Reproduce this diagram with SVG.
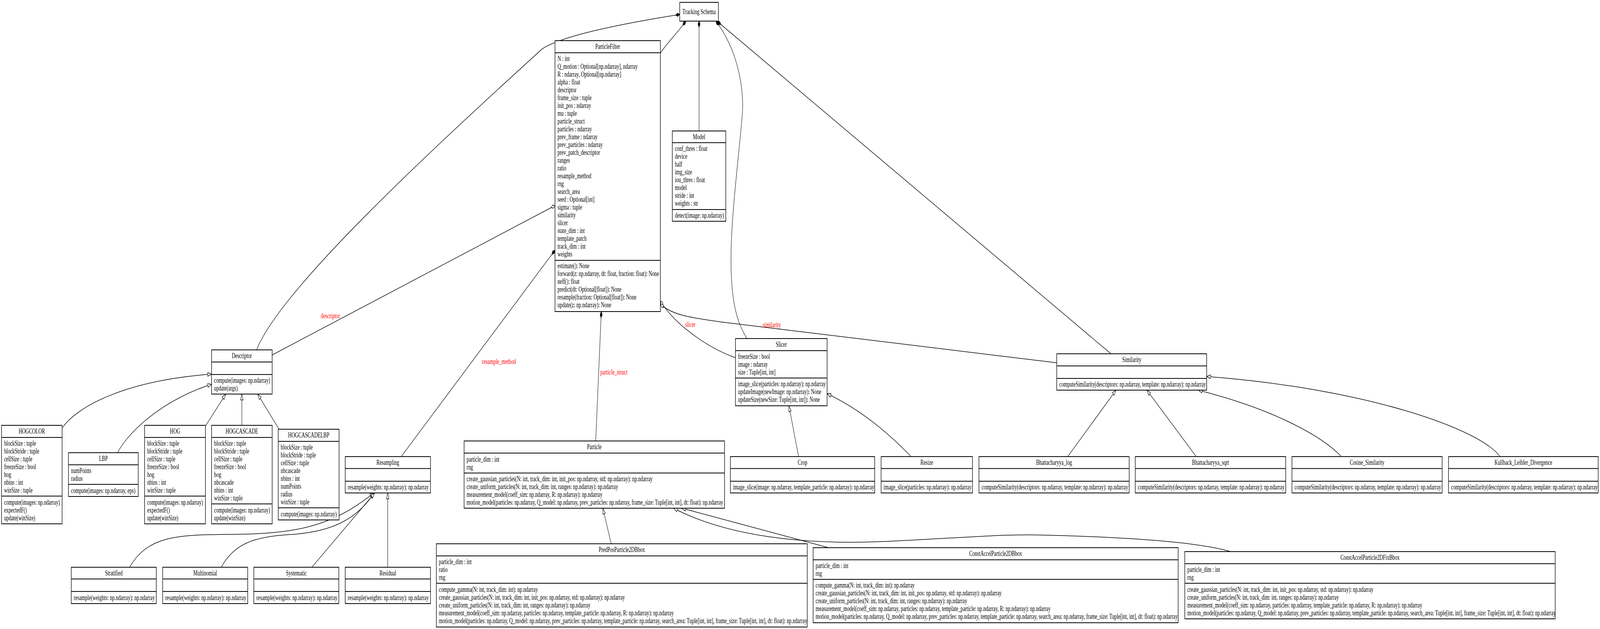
<svg xmlns="http://www.w3.org/2000/svg" width="6285" height="1609" viewBox="0 0 6285 1609" preserveAspectRatio="none">
<style>
svg{width:100vw;height:100vh;display:block}
.bg{fill:#fff}
.b{fill:#fff;stroke:#000;stroke-width:2}
.d{stroke:#000;stroke-width:2}
text{font-family:"Liberation Serif","Times New Roman",serif;font-size:18.67px;fill:#000}
.c{text-anchor:middle}
.lbl{fill:#f00}
.e{fill:none;stroke:#000;stroke-width:1.5}
.inh{marker-end:url(#tri)}
.comp{marker-start:url(#dia)}
.agg{marker-start:url(#odia)}
</style>
<defs>
<marker id="tri" viewBox="0 -6 17 12" refX="16" refY="0" markerWidth="17" markerHeight="12" markerUnits="userSpaceOnUse" orient="auto"><path d="M1,-4.8 L16,0 L1,4.8 Z" fill="#fff" stroke="#000" stroke-width="1.5"/></marker>
<marker id="dia" viewBox="0 -6 19 12" refX="1" refY="0" markerWidth="19" markerHeight="12" markerUnits="userSpaceOnUse" orient="auto"><path d="M1,0 L9,-4.2 L17,0 L9,4.2 Z" fill="#000" stroke="#000" stroke-width="1.5"/></marker>
<marker id="odia" viewBox="0 -6 19 12" refX="1" refY="0" markerWidth="19" markerHeight="12" markerUnits="userSpaceOnUse" orient="auto"><path d="M1,0 L9,-4.2 L17,0 L9,4.2 Z" fill="#fff" stroke="#000" stroke-width="1.5"/></marker>
</defs>
<rect class="bg" x="0" y="0" width="6285" height="1609"/>

<g id="edges">
<path class="e comp" d="M2670,37 C2400,65 2200,95 2130,125 C1700,380 1100,740 1008,895"/>
<path class="e comp" d="M2694,54 C2660,85 2620,110 2594,136"/>
<path class="e comp" d="M2746,54 L2746,335"/>
<path class="e comp" d="M2812,54 C2900,130 2925,230 2915,300 C2890,480 2855,640 2880,760 C2890,810 2910,840 2934,866"/>
<path class="e comp" d="M2818,55 L4364,905"/>
<path class="e agg" d="M2180,526 L1069,908"/>
<path class="e comp" d="M2180,640 L1576,1168"/>
<path class="e comp" d="M2362,797 L2340,1128"/>
<path class="e agg" d="M2594,770 C2650,830 2780,890 2889,915"/>
<path class="e agg" d="M2594,778 C2640,805 2700,812 2850,825 L4151,928"/>
<path class="e inh" d="M244,1095 C290,1050 460,975 831,957"/>
<path class="e inh" d="M462,1158 C490,1120 610,1030 831,983"/>
<path class="e inh" d="M807,1090 L887,1008"/>
<path class="e inh" d="M950,1088 L950,1008"/>
<path class="e inh" d="M1096,1098 L1012,1008"/>
<path class="e inh" d="M509,1451 C580,1370 700,1368 900,1367 C1150,1366 1300,1350 1468,1261"/>
<path class="e inh" d="M869,1451 C920,1390 1000,1372 1148,1367 C1300,1360 1400,1330 1470,1261"/>
<path class="e inh" d="M1225,1451 L1472,1261"/>
<path class="e inh" d="M1523,1451 L1523,1261"/>
<path class="e inh" d="M2401,1391 L2368,1300"/>
<path class="e inh" d="M3255,1401 L2678,1300"/>
<path class="e inh" d="M4834,1411 C4700,1385 4400,1374 4113,1369 C3950,1365 3800,1375 3481,1385 C3150,1395 2850,1370 2646,1300"/>
<path class="e inh" d="M3137,1168 L3099,1038"/>
<path class="e inh" d="M3579,1168 Q3420,1060 3249,1007"/>
<path class="e inh" d="M4194,1168 L4384,998"/>
<path class="e inh" d="M4699,1168 L4505,998"/>
<path class="e inh" d="M5269,1168 C5200,1120 5020,1050 4707,998"/>
<path class="e inh" d="M5892,1168 C5820,1100 5380,995 4740,963"/>
<text class="lbl c" x="1298" y="814">descriptor</text>
<text class="lbl c" x="1960" y="931">resample_method</text>
<text class="lbl" x="2358" y="958">particle_struct</text>
<text class="lbl" x="2691" y="836">slicer</text>
<text class="lbl" x="2996" y="837">similarity</text>
</g>

<g id="TrackingSchema">
<rect class="b" x="2670" y="6" width="152" height="48"/>
<text class="c" x="2746" y="36">Tracking Schema</text>
</g>

<g id="ParticleFilter">
<rect class="b" x="2180" y="104" width="414" height="693"/>
<line class="d" x1="2180" y1="135" x2="2594" y2="135"/>
<line class="d" x1="2180" y1="666" x2="2594" y2="666"/>
<text class="c" x="2387" y="125.5">ParticleFilter</text>
<text x="2190" y="156">N : int</text>
<text x="2190" y="176">Q_motion : Optional[np.ndarray], ndarray</text>
<text x="2190" y="196">R : ndarray, Optional[np.ndarray]</text>
<text x="2190" y="216">alpha : float</text>
<text x="2190" y="236">descriptor</text>
<text x="2190" y="256">frame_size : tuple</text>
<text x="2190" y="276">init_pos : ndarray</text>
<text x="2190" y="296">mu : tuple</text>
<text x="2190" y="316">particle_struct</text>
<text x="2190" y="336">particles : ndarray</text>
<text x="2190" y="356">prev_frame : ndarray</text>
<text x="2190" y="376">prev_particles : ndarray</text>
<text x="2190" y="396">prev_patch_descriptor</text>
<text x="2190" y="416">ranges</text>
<text x="2190" y="436">ratio</text>
<text x="2190" y="456">resample_method</text>
<text x="2190" y="476">rng</text>
<text x="2190" y="496">search_area</text>
<text x="2190" y="516">seed : Optional[int]</text>
<text x="2190" y="536">sigma : tuple</text>
<text x="2190" y="556">similarity</text>
<text x="2190" y="576">slicer</text>
<text x="2190" y="596">state_dim : int</text>
<text x="2190" y="616">template_patch</text>
<text x="2190" y="636">track_dim : int</text>
<text x="2190" y="656">weights</text>
<text x="2190" y="686">estimate(): None</text>
<text x="2190" y="706">forward(z: np.ndarray, dt: float, fraction: float): None</text>
<text x="2190" y="726">neff(): float</text>
<text x="2190" y="746">predict(dt: Optional[float]): None</text>
<text x="2190" y="766">resample(fraction: Optional[float]): None</text>
<text x="2190" y="786">update(z: np.ndarray): None</text>
</g>

<g id="Model">
<rect class="b" x="2641" y="335" width="210" height="231"/>
<line class="d" x1="2641" y1="365" x2="2851" y2="365"/>
<line class="d" x1="2641" y1="536" x2="2851" y2="536"/>
<text class="c" x="2746" y="356">Model</text>
<text x="2651" y="386">conf_thres : float</text>
<text x="2651" y="406">device</text>
<text x="2651" y="426">half</text>
<text x="2651" y="446">img_size</text>
<text x="2651" y="466">iou_thres : float</text>
<text x="2651" y="486">model</text>
<text x="2651" y="506">stride : int</text>
<text x="2651" y="526">weights : str</text>
<text x="2651" y="557">detect(image: np.ndarray)</text>
</g>

<g id="Descriptor">
<rect class="b" x="831" y="895" width="238" height="113"/>
<line class="d" x1="831" y1="926" x2="1069" y2="926"/>
<line class="d" x1="831" y1="958" x2="1069" y2="958"/>
<text class="c" x="950" y="916.5">Descriptor</text>
<text x="841" y="979">compute(images: np.ndarray)</text>
<text x="841" y="999">update(args)</text>
</g>

<g id="HOGCOLOR">
<rect class="b" x="6" y="1088" width="238" height="252"/>
<line class="d" x1="6" y1="1119" x2="244" y2="1119"/>
<line class="d" x1="6" y1="1269" x2="244" y2="1269"/>
<text class="c" x="125" y="1109.5">HOGCOLOR</text>
<text x="16" y="1140">blockSize : tuple</text>
<text x="16" y="1160">blockStride : tuple</text>
<text x="16" y="1180">cellSize : tuple</text>
<text x="16" y="1200">freezeSize : bool</text>
<text x="16" y="1220">hog</text>
<text x="16" y="1240">nbins : int</text>
<text x="16" y="1260">winSize : tuple</text>
<text x="16" y="1291">compute(images: np.ndarray)</text>
<text x="16" y="1311">expectedF()</text>
<text x="16" y="1331">update(winSize)</text>
</g>

<g id="LBP">
<rect class="b" x="269" y="1158" width="274" height="112"/>
<line class="d" x1="269" y1="1189" x2="543" y2="1189"/>
<line class="d" x1="269" y1="1239" x2="543" y2="1239"/>
<text class="c" x="406" y="1179.5">LBP</text>
<text x="279" y="1210">numPoints</text>
<text x="279" y="1230">radius</text>
<text x="279" y="1261">compute(images: np.ndarray, eps)</text>
</g>

<g id="HOG">
<rect class="b" x="568" y="1088" width="239" height="252"/>
<line class="d" x1="568" y1="1119" x2="807" y2="1119"/>
<line class="d" x1="568" y1="1269" x2="807" y2="1269"/>
<text class="c" x="687.5" y="1109.5">HOG</text>
<text x="578" y="1140">blockSize : tuple</text>
<text x="578" y="1160">blockStride : tuple</text>
<text x="578" y="1180">cellSize : tuple</text>
<text x="578" y="1200">freezeSize : bool</text>
<text x="578" y="1220">hog</text>
<text x="578" y="1240">nbins : int</text>
<text x="578" y="1260">winSize : tuple</text>
<text x="578" y="1291">compute(images: np.ndarray)</text>
<text x="578" y="1311">expectedF()</text>
<text x="578" y="1331">update(winSize)</text>
</g>

<g id="HOGCASCADE">
<rect class="b" x="831" y="1088" width="238" height="252"/>
<line class="d" x1="831" y1="1119" x2="1069" y2="1119"/>
<line class="d" x1="831" y1="1289" x2="1069" y2="1289"/>
<text class="c" x="950" y="1109.5">HOGCASCADE</text>
<text x="841" y="1140">blockSize : tuple</text>
<text x="841" y="1160">blockStride : tuple</text>
<text x="841" y="1180">cellSize : tuple</text>
<text x="841" y="1200">freezeSize : bool</text>
<text x="841" y="1220">hog</text>
<text x="841" y="1240">nbcascade</text>
<text x="841" y="1260">nbins : int</text>
<text x="841" y="1280">winSize : tuple</text>
<text x="841" y="1311">compute(images: np.ndarray)</text>
<text x="841" y="1331">update(winSize)</text>
</g>

<g id="HOGCASCADELBP">
<rect class="b" x="1093" y="1098" width="239" height="232"/>
<line class="d" x1="1093" y1="1129" x2="1332" y2="1129"/>
<line class="d" x1="1093" y1="1299" x2="1332" y2="1299"/>
<text class="c" x="1212.5" y="1119.5">HOGCASCADELBP</text>
<text x="1103" y="1150">blockSize : tuple</text>
<text x="1103" y="1170">blockStride : tuple</text>
<text x="1103" y="1190">cellSize : tuple</text>
<text x="1103" y="1210">nbcascade</text>
<text x="1103" y="1230">nbins : int</text>
<text x="1103" y="1250">numPoints</text>
<text x="1103" y="1270">radius</text>
<text x="1103" y="1290">winSize : tuple</text>
<text x="1103" y="1321">compute(images: np.ndarray)</text>
</g>

<g id="Resampling">
<rect class="b" x="1356" y="1168" width="335" height="93"/>
<line class="d" x1="1356" y1="1198.5" x2="1691" y2="1198.5"/>
<line class="d" x1="1356" y1="1231" x2="1691" y2="1231"/>
<text class="c" x="1523.5" y="1189">Resampling</text>
<text x="1366" y="1252">resample(weights: np.ndarray): np.ndarray</text>
</g>

<g id="Stratified">
<rect class="b" x="280" y="1451" width="334" height="93"/>
<line class="d" x1="280" y1="1481" x2="614" y2="1481"/>
<line class="d" x1="280" y1="1513" x2="614" y2="1513"/>
<text class="c" x="447" y="1472">Stratified</text>
<text x="290" y="1535">resample(weights: np.ndarray): np.ndarray</text>
</g>

<g id="Multinomial">
<rect class="b" x="639" y="1451" width="334" height="93"/>
<line class="d" x1="639" y1="1481" x2="973" y2="1481"/>
<line class="d" x1="639" y1="1513" x2="973" y2="1513"/>
<text class="c" x="806" y="1472">Multinomial</text>
<text x="649" y="1535">resample(weights: np.ndarray): np.ndarray</text>
</g>

<g id="Systematic">
<rect class="b" x="997" y="1451" width="334" height="93"/>
<line class="d" x1="997" y1="1481" x2="1331" y2="1481"/>
<line class="d" x1="997" y1="1513" x2="1331" y2="1513"/>
<text class="c" x="1164" y="1472">Systematic</text>
<text x="1007" y="1535">resample(weights: np.ndarray): np.ndarray</text>
</g>

<g id="Residual">
<rect class="b" x="1356" y="1451" width="335" height="93"/>
<line class="d" x1="1356" y1="1481" x2="1691" y2="1481"/>
<line class="d" x1="1356" y1="1513" x2="1691" y2="1513"/>
<text class="c" x="1523.5" y="1472">Residual</text>
<text x="1366" y="1535">resample(weights: np.ndarray): np.ndarray</text>
</g>

<g id="Particle">
<rect class="b" x="1823" y="1128" width="1023" height="172"/>
<line class="d" x1="1823" y1="1159" x2="2846" y2="1159"/>
<line class="d" x1="1823" y1="1210" x2="2846" y2="1210"/>
<text class="c" x="2334.5" y="1149.5">Particle</text>
<text x="1833" y="1181">particle_dim : int</text>
<text x="1833" y="1201">rng</text>
<text x="1833" y="1231">create_gaussian_particles(N: int, track_dim: int, init_pos: np.ndarray, std: np.ndarray): np.ndarray</text>
<text x="1833" y="1251">create_uniform_particles(N: int, track_dim: int, ranges: np.ndarray): np.ndarray</text>
<text x="1833" y="1271">measurement_model(coeff_sim: np.ndarray, R: np.ndarray): np.ndarray</text>
<text x="1833" y="1291">motion_model(particles: np.ndarray, Q_model: np.ndarray, prev_particles: np.ndarray, frame_size: Tuple[int, int], dt: float): np.ndarray</text>
</g>

<g id="PredPosParticle2DBbox">
<rect class="b" x="1714" y="1391" width="1457" height="213"/>
<line class="d" x1="1714" y1="1422" x2="3171" y2="1422"/>
<line class="d" x1="1714" y1="1492" x2="3171" y2="1492"/>
<text class="c" x="2442.5" y="1412.5">PredPosParticle2DBbox</text>
<text x="1724" y="1443">particle_dim : int</text>
<text x="1724" y="1463">ratio</text>
<text x="1724" y="1483">rng</text>
<text x="1724" y="1514">compute_gamma(N: int, track_dim: int): np.ndarray</text>
<text x="1724" y="1534">create_gaussian_particles(N: int, track_dim: int, init_pos: np.ndarray, std: np.ndarray): np.ndarray</text>
<text x="1724" y="1554">create_uniform_particles(N: int, track_dim: int, ranges: np.ndarray): np.ndarray</text>
<text x="1724" y="1574">measurement_model(coeff_sim: np.ndarray, particles: np.ndarray, template_particle: np.ndarray, R: np.ndarray): np.ndarray</text>
<text x="1724" y="1594">motion_model(particles: np.ndarray, Q_model: np.ndarray, prev_particles: np.ndarray, template_particle: np.ndarray, search_area: Tuple[int, int], frame_size: Tuple[int, int], dt: float): np.ndarray</text>
</g>

<g id="ConstAccelParticle2DBbox">
<rect class="b" x="3194" y="1401" width="1434" height="192"/>
<line class="d" x1="3194" y1="1432" x2="4628" y2="1432"/>
<line class="d" x1="3194" y1="1482" x2="4628" y2="1482"/>
<text class="c" x="3911" y="1422.5">ConstAccelParticle2DBbox</text>
<text x="3204" y="1453">particle_dim : int</text>
<text x="3204" y="1473">rng</text>
<text x="3204" y="1503">compute_gamma(N: int, track_dim: int): np.ndarray</text>
<text x="3204" y="1523">create_gaussian_particles(N: int, track_dim: int, init_pos: np.ndarray, std: np.ndarray): np.ndarray</text>
<text x="3204" y="1543">create_uniform_particles(N: int, track_dim: int, ranges: np.ndarray): np.ndarray</text>
<text x="3204" y="1563">measurement_model(coeff_sim: np.ndarray, particles: np.ndarray, template_particle: np.ndarray, R: np.ndarray): np.ndarray</text>
<text x="3204" y="1583">motion_model(particles: np.ndarray, Q_model: np.ndarray, prev_particles: np.ndarray, template_particle: np.ndarray, search_area: np.ndarray, frame_size: Tuple[int, int], dt: float): np.ndarray</text>
</g>

<g id="ConstAccelParticle2DFixBbox">
<rect class="b" x="4654" y="1411" width="1455" height="172"/>
<line class="d" x1="4654" y1="1442" x2="6109" y2="1442"/>
<line class="d" x1="4654" y1="1492" x2="6109" y2="1492"/>
<text class="c" x="5381.5" y="1432.5">ConstAccelParticle2DFixBbox</text>
<text x="4664" y="1463">particle_dim : int</text>
<text x="4664" y="1483">rng</text>
<text x="4664" y="1514">create_gaussian_particles(N: int, track_dim: int, init_pos: np.ndarray, std: np.ndarray): np.ndarray</text>
<text x="4664" y="1534">create_uniform_particles(N: int, track_dim: int, ranges: np.ndarray): np.ndarray</text>
<text x="4664" y="1554">measurement_model(coeff_sim: np.ndarray, particles: np.ndarray, template_particle: np.ndarray, R: np.ndarray): np.ndarray</text>
<text x="4664" y="1574">motion_model(particles: np.ndarray, Q_model: np.ndarray, prev_particles: np.ndarray, template_particle: np.ndarray, search_area: Tuple[int, int], frame_size: Tuple[int, int], dt: float): np.ndarray</text>
</g>

<g id="Slicer">
<rect class="b" x="2889" y="866" width="360" height="172"/>
<line class="d" x1="2889" y1="897" x2="3249" y2="897"/>
<line class="d" x1="2889" y1="967" x2="3249" y2="967"/>
<text class="c" x="3069" y="887.5">Slicer</text>
<text x="2899" y="918">freezeSize : bool</text>
<text x="2899" y="938">image : ndarray</text>
<text x="2899" y="958">size : Tuple[int, int]</text>
<text x="2899" y="988.5">image_slice(particles: np.ndarray): np.ndarray</text>
<text x="2899" y="1008.5">updateImage(newImage: np.ndarray): None</text>
<text x="2899" y="1028.5">updateSize(newSize: Tuple[int, int]): None</text>
</g>

<g id="Crop">
<rect class="b" x="2869" y="1168" width="567" height="93"/>
<line class="d" x1="2869" y1="1198.5" x2="3436" y2="1198.5"/>
<line class="d" x1="2869" y1="1231" x2="3436" y2="1231"/>
<text class="c" x="3152.5" y="1189">Crop</text>
<text x="2879" y="1252">image_slice(image: np.ndarray, template_particle: np.ndarray): np.ndarray</text>
</g>

<g id="Resize">
<rect class="b" x="3461" y="1168" width="359" height="93"/>
<line class="d" x1="3461" y1="1198.5" x2="3820" y2="1198.5"/>
<line class="d" x1="3461" y1="1231" x2="3820" y2="1231"/>
<text class="c" x="3640.5" y="1189">Resize</text>
<text x="3471" y="1252">image_slice(particles: np.ndarray): np.ndarray</text>
</g>

<g id="Similarity">
<rect class="b" x="4151" y="905" width="589" height="93"/>
<line class="d" x1="4151" y1="936" x2="4740" y2="936"/>
<line class="d" x1="4151" y1="968" x2="4740" y2="968"/>
<text class="c" x="4445.5" y="926.5">Similarity</text>
<text x="4161" y="989">computeSimilarity(descriptors: np.ndarray, template: np.ndarray): np.ndarray</text>
</g>

<g id="Bhattacharyya_log">
<rect class="b" x="3845.5" y="1168" width="590" height="93"/>
<line class="d" x1="3845.5" y1="1198.5" x2="4435.5" y2="1198.5"/>
<line class="d" x1="3845.5" y1="1231" x2="4435.5" y2="1231"/>
<text class="c" x="4140.5" y="1189">Bhattacharyya_log</text>
<text x="3855.5" y="1252">computeSimilarity(descriptors: np.ndarray, template: np.ndarray): np.ndarray</text>
</g>

<g id="Bhattacharyya_sqrt">
<rect class="b" x="4459.5" y="1168" width="591" height="93"/>
<line class="d" x1="4459.5" y1="1198.5" x2="5050.5" y2="1198.5"/>
<line class="d" x1="4459.5" y1="1231" x2="5050.5" y2="1231"/>
<text class="c" x="4755" y="1189">Bhattacharyya_sqrt</text>
<text x="4469.5" y="1252">computeSimilarity(descriptors: np.ndarray, template: np.ndarray): np.ndarray</text>
</g>

<g id="Cosine_Similarity">
<rect class="b" x="5075" y="1168" width="590" height="93"/>
<line class="d" x1="5075" y1="1198.5" x2="5665" y2="1198.5"/>
<line class="d" x1="5075" y1="1231" x2="5665" y2="1231"/>
<text class="c" x="5370" y="1189">Cosine_Similarity</text>
<text x="5085" y="1252">computeSimilarity(descriptors: np.ndarray, template: np.ndarray): np.ndarray</text>
</g>

<g id="Kullback_Leibler_Divergence">
<rect class="b" x="5690" y="1168" width="588" height="93"/>
<line class="d" x1="5690" y1="1198.5" x2="6278" y2="1198.5"/>
<line class="d" x1="5690" y1="1231" x2="6278" y2="1231"/>
<text class="c" x="5984" y="1189">Kullback_Leibler_Divergence</text>
<text x="5700" y="1252">computeSimilarity(descriptors: np.ndarray, template: np.ndarray): np.ndarray</text>
</g>
</svg>
